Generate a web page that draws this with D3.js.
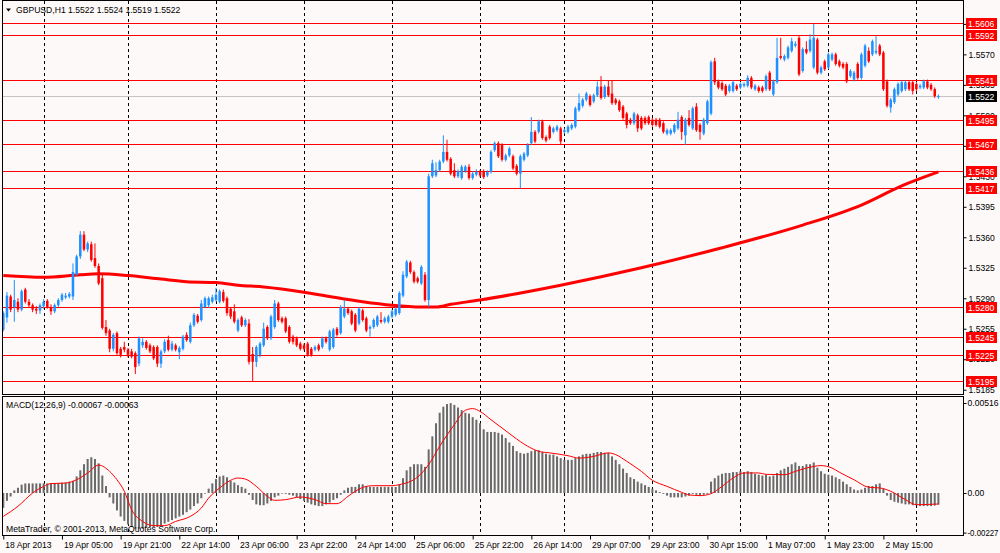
<!DOCTYPE html>
<html><head><meta charset="utf-8">
<script src="https://cdn.jsdelivr.net/npm/d3@7"></script>
<style>
body{margin:0;background:#fcf9f8;}
svg{display:block;font-family:"Liberation Sans",Arial,sans-serif;}
</style></head><body>
<svg id="c" width="1000" height="553"></svg>
<script>
// ---- DATA (prices in 1/10000 above 1.0: 5254 => 1.5254) ----
const headerText = "GBPUSD,H1  1.5522 1.5524 1.5519 1.5522";
const macdText = "MACD(12,26,9) -0.00067 -0.00063";
const copyText = "MetaTrader, \u00A9 2001-2013, MetaQuotes Software Corp.";

const opens = [5254,5268,5292,5280,5286,5277,5300,5286,5282,5278,
5276,5281,5287,5280,5275,5282,5288,5291,5292,5292,
5317,5338,5363,5346,5352,5336,5327,5313,5257,5253,
5232,5250,5232,5234,5231,5229,5227,5215,5236,5240,
5236,5234,5234,5215,5229,5242,5231,5236,5228,5232,
5248,5240,5259,5270,5265,5280,5282,5286,5288,5286,
5297,5290,5278,5275,5253,5268,5259,5261,5226,5217,
5225,5236,5257,5244,5257,5284,5267,5267,5257,5246,
5244,5238,5236,5238,5232,5231,5236,5234,5244,5231,
5234,5255,5250,5269,5278,5275,5271,5261,5276,5267,
5255,5257,5259,5265,5263,5263,5269,5271,5273,5293,
5315,5331,5320,5313,5307,5317,5288,5430,5431,5437,
5447,5458,5450,5437,5430,5428,5436,5441,5428,5432,
5435,5436,5431,5435,5460,5468,5466,5449,5454,5453,
5442,5433,5449,5454,5468,5481,5481,5493,5475,5487,
5481,5483,5485,5481,5481,5485,5487,5506,5511,5518,
5522,5516,5523,5533,5521,5533,5525,5518,5516,5510,
5502,5495,5491,5500,5497,5497,5498,5495,5495,5495,
5491,5479,5479,5481,5485,5498,5477,5497,5485,5510,
5489,5479,5491,5502,5562,5539,5537,5534,5528,5528,
5534,5532,5534,5534,5543,5530,5532,5532,5530,5549,
5524,5538,5568,5564,5566,5574,5580,5589,5551,5576,
5574,5555,5587,5549,5562,5555,5564,5570,5562,5559,
5559,5545,5541,5559,5543,5557,5574,5570,5572,5580,
5572,5539,5509,5515,5524,5528,5530,5538,5538,5536,
5532,5532,5539,5535,5530,5522];
const highs = [5275,5297,5294,5311,5290,5300,5302,5289,5284,5281,
5284,5289,5289,5283,5284,5290,5296,5296,5297,5330,
5340,5367,5367,5355,5355,5353,5330,5318,5265,5255,
5250,5252,5234,5240,5233,5232,5229,5246,5244,5242,
5238,5236,5236,5231,5243,5247,5241,5238,5235,5248,
5251,5262,5273,5272,5288,5292,5292,5294,5302,5300,
5300,5292,5280,5283,5267,5270,5267,5266,5234,5236,
5240,5262,5259,5271,5288,5286,5269,5269,5259,5248,
5246,5240,5238,5240,5234,5236,5238,5246,5246,5254,
5256,5257,5282,5288,5280,5277,5273,5280,5278,5269,
5259,5267,5271,5274,5269,5271,5277,5280,5298,5321,
5334,5333,5322,5315,5328,5320,5433,5449,5446,5449,
5477,5472,5452,5445,5438,5443,5443,5444,5436,5438,
5437,5438,5437,5460,5470,5470,5468,5456,5464,5455,
5444,5455,5458,5468,5498,5483,5495,5495,5477,5489,
5487,5489,5487,5485,5489,5491,5510,5525,5520,5527,
5524,5525,5539,5545,5535,5540,5540,5520,5518,5512,
5504,5497,5504,5502,5499,5499,5500,5497,5497,5497,
5493,5485,5485,5491,5504,5500,5497,5506,5510,5514,
5491,5497,5518,5563,5566,5541,5539,5536,5536,5540,
5536,5538,5538,5546,5545,5536,5534,5534,5547,5551,
5541,5589,5589,5570,5580,5589,5585,5591,5578,5585,
5593,5605,5589,5557,5564,5572,5572,5572,5564,5561,
5561,5553,5551,5561,5572,5582,5578,5587,5591,5582,
5574,5541,5520,5532,5538,5540,5540,5540,5540,5538,
5536,5541,5541,5537,5532,5524];
const lows = [5252,5262,5274,5263,5274,5275,5284,5279,5274,5272,
5272,5278,5278,5271,5273,5280,5286,5289,5290,5288,
5316,5335,5344,5343,5332,5325,5305,5254,5247,5228,
5229,5225,5222,5228,5222,5221,5203,5212,5233,5231,
5227,5219,5211,5210,5227,5229,5229,5229,5220,5230,
5240,5238,5257,5261,5263,5279,5279,5284,5286,5284,
5285,5270,5266,5261,5251,5257,5257,5214,5194,5211,
5222,5234,5242,5242,5255,5263,5261,5250,5238,5237,
5234,5230,5230,5223,5223,5229,5229,5232,5238,5229,
5232,5246,5248,5267,5271,5259,5251,5259,5263,5251,
5246,5255,5257,5261,5261,5261,5267,5269,5271,5291,
5313,5318,5307,5307,5305,5286,5280,5428,5429,5435,
5445,5447,5431,5428,5428,5426,5434,5426,5426,5430,
5429,5427,5429,5433,5458,5451,5447,5447,5452,5437,
5431,5416,5447,5452,5466,5468,5479,5472,5469,5472,
5479,5481,5466,5479,5479,5483,5485,5504,5509,5516,
5510,5514,5521,5518,5519,5521,5512,5512,5504,5495,
5485,5489,5489,5481,5483,5489,5489,5487,5487,5485,
5479,5477,5477,5479,5483,5472,5466,5487,5483,5481,
5472,5477,5489,5500,5535,5530,5528,5522,5526,5526,
5528,5530,5532,5532,5530,5528,5526,5526,5528,5528,
5522,5536,5564,5562,5564,5572,5578,5545,5549,5570,
5572,5553,5547,5547,5551,5553,5562,5557,5555,5553,
5537,5543,5539,5541,5541,5555,5560,5568,5570,5568,
5528,5509,5503,5513,5522,5526,5528,5528,5524,5528,
5530,5530,5530,5528,5520,5519];
const closes = [5273,5293,5277,5288,5277,5298,5286,5282,5277,5276,
5282,5286,5280,5275,5282,5288,5294,5293,5295,5320,
5338,5363,5346,5353,5334,5327,5307,5256,5250,5232,
5248,5227,5225,5231,5225,5223,5211,5244,5240,5233,
5229,5221,5215,5229,5240,5231,5238,5231,5233,5246,
5242,5259,5271,5263,5284,5290,5290,5291,5294,5298,
5287,5273,5269,5263,5265,5259,5265,5217,5217,5234,
5238,5255,5244,5269,5284,5265,5263,5252,5240,5240,
5236,5232,5232,5225,5225,5234,5231,5244,5240,5252,
5254,5248,5280,5278,5273,5261,5253,5278,5265,5253,
5257,5265,5269,5263,5267,5269,5275,5278,5296,5317,
5332,5320,5309,5309,5326,5288,5430,5445,5437,5447,
5458,5449,5433,5430,5436,5441,5441,5428,5433,5435,
5431,5429,5435,5458,5468,5453,5449,5454,5462,5439,
5433,5453,5456,5466,5481,5470,5493,5474,5471,5474,
5485,5487,5470,5483,5487,5489,5508,5514,5518,5525,
5512,5523,5533,5520,5533,5523,5514,5514,5506,5497,
5489,5491,5502,5485,5485,5491,5491,5489,5489,5487,
5481,5483,5483,5489,5495,5481,5495,5489,5508,5483,
5481,5495,5516,5561,5538,5532,5530,5524,5534,5538,
5530,5536,5536,5543,5532,5534,5528,5528,5545,5530,
5539,5566,5566,5568,5578,5585,5582,5547,5576,5572,
5587,5589,5549,5555,5553,5570,5570,5559,5557,5555,
5539,5551,5549,5543,5570,5580,5562,5585,5574,5570,
5530,5511,5518,5530,5536,5538,5538,5530,5528,5530,
5534,5539,5532,5530,5522,5522];

// moving average (thick red line), sampled at bar indices
const maBars = [0,11,21,26,34,43,50,58,64,71,82,89,98,106,114,118,122,130,152,174,196,218,234,245,255];
const maVals = [5316,5314,5317,5318,5316,5312,5309,5308,5305,5303,5297,5292,5286,5282,5280,5280,5283,5288,5305,5325,5348,5374,5397,5419,5435];

// MACD histogram, in units of 0.0001
const macdHist = [-8.5,-4.5,-2,1.5,3,4.8,5.5,5.5,5.5,5.5,
5.5,5.5,5.5,5.5,5.5,5.7,5.9,6,6.5,7,
9.5,13,16.5,19.5,20.5,19.5,17,10,4,-2.5,
-6,-10,-13.5,-16,-18,-19.5,-20.5,-20.5,-20.5,-20,
-19.5,-19.5,-19.5,-18.5,-17.5,-16.5,-15.5,-14.5,-13.5,-12.5,
-11,-9.5,-7.5,-6,-3,0,2.5,5.5,8,9.5,
10,9,7,6,4.5,3.5,2.5,-1,-4,-6.5,
-7,-7,-6,-4.5,-2.5,-1.5,-0.3,-0.5,-1,-1.5,
-2.5,-3.5,-4.5,-5.5,-6.5,-7,-7.5,-7.5,-6.5,-5.5,
-4,-3,-1,1.5,3,3.5,3.5,5,5,4,
3.5,3.5,3.5,3.5,3.5,3.5,3.5,3.5,5,8.5,
13,15,16.5,16.5,16.5,15,25,32.5,40,46,
49.5,51,51.5,50.5,49,47.5,46,45.5,43.5,42,
40,36.5,35,35,35,34.5,33.5,31.5,29,27,
24,23,22.5,23,24,24.5,24.5,23.5,22.5,22,
22,21,20,19,19,19,20,21,22,22.5,
22.5,23,23.5,23.5,23,23,21,19,16.5,14,
11.5,9,8,6.5,5.5,4.5,3.5,2.5,1.5,0.5,
-0.5,-1.5,-2.5,-2.5,-2.5,-2.5,-2,-1.5,-0.5,-1,
-1.5,-1,-0.5,6.5,8.5,10,11,11.5,11.5,12,
12,12.5,12,12.5,12,11,10.5,10,10.5,9.5,
10,11.5,13,14,15,16.5,17.5,15.5,15.5,16.5,
16.5,17.5,14.5,12.5,11,10.5,10,9,8,6.5,
5,3.5,2,1.5,2,3,4,4,5,5.5,
2.5,-1.5,-4,-5,-5.5,-6,-6.5,-6.5,-7,-7,
-7.5,-7.5,-7.5,-7.5,-7.2,-6.7];

// MACD signal line (0.0001 units), sampled at bar indices
const sigBars = [0,4,8,11,13,17,20,23,26,29,31,33,35,38,41,44,47,51,54,56,59,62,64,66,69,72,74,77,81,85,88,91,94,96,99,101,106,108,113,116,119,123,126,128,130,133,136,139,143,146,149,154,157,161,165,167,170,174,177,181,185,187,190,193,196,199,202,206,208,213,216,219,223,226,228,232,236,239,242,246,249,255];
const sigVals = [-13.4,-7.6,0,3.8,5.4,5.7,7.6,11.5,16,12.4,7.6,1,-9.6,-16.3,-18.7,-18.7,-16.3,-13.4,-8.6,-2.9,2.9,7.3,8.6,8,3.8,-1.9,-4.2,-3.8,-2.3,-3.8,-6.1,-6.1,-1.9,1,3.8,4.2,4.2,4.8,9.2,16.3,26.8,39.2,47.4,48.4,46.8,42,37.3,32.5,26.8,23.9,23,21.4,20,21,23,22,18.2,12.4,7.3,3.8,0.4,-1.1,-1.5,-0.4,3.8,8.6,11.5,11.5,10.7,10.5,12.4,14.3,15.7,14.3,11.9,7.6,3.3,2.9,1,-3.8,-6.7,-6.3];

// horizontal level lines and labels
const levels = [5606,5592,5541,5495,5467,5436,5417,5280,5245,5225,5195];
const bidLevel = 5522;
const priceTicks = [5605,5570,5535,5500,5465,5430,5395,5360,5325,5290,5255,5220,5185];
const macdTicks = [0.00516, 0, -0.00227];
const macdTickLabels = ["0.00516","0.00","-0.00227"];

// time axis
const gridBars = [11,34,58,82,106,130,153,177,201,225,249];
const timeBars = [0,16,32,48,64,80,96,112,128,144,160,176,192,208,224,240];
const timeLabels = ["18 Apr 2013","19 Apr 05:00","19 Apr 21:00","22 Apr 14:00","23 Apr 06:00","23 Apr 22:00","24 Apr 14:00","25 Apr 06:00","25 Apr 22:00","26 Apr 14:00","29 Apr 07:00","29 Apr 23:00","30 Apr 15:00","1 May 07:00","1 May 23:00","2 May 15:00"];

// ---- DRAW ----
const P = v => 1 + v / 10000;
const svg = d3.select("#c");
const FONT = 8.6;
const FAM = "'Liberation Sans',Arial,sans-serif";
svg.append("rect").attr("width",1000).attr("height",553).attr("fill","#fcf9f8");

const x = d3.scaleLinear().domain([0,255]).range([3.3,938.4]);
const y = d3.scaleLinear().domain([1.5195,1.5606]).range([381,23]);
const ym = d3.scaleLinear().domain([-0.00227,0.00516]).range([532.6,403]);

const defs = svg.append("defs");
defs.append("clipPath").attr("id","cm").append("rect").attr("x",3).attr("y",1).attr("width",960).attr("height",393);
defs.append("clipPath").attr("id","cd").append("rect").attr("x",3).attr("y",397).attr("width",960).attr("height",138);

const crisp = v => Math.round(v) + 0.5;

// vertical dashed grid
svg.append("g").selectAll("line").data(gridBars).join("line")
  .attr("x1",d=>crisp(x(d))).attr("x2",d=>crisp(x(d)))
  .attr("y1",1).attr("y2",535)
  .attr("stroke","#000").attr("stroke-width",1).attr("stroke-dasharray","3,3");

// main panel
const gM = svg.append("g").attr("clip-path","url(#cm)");
gM.append("line").attr("x1",2).attr("x2",963).attr("y1",crisp(y(P(bidLevel)))).attr("y2",crisp(y(P(bidLevel))))
  .attr("stroke","#c4c4c4").attr("stroke-width",1);
gM.selectAll("line.lvl").data(levels).join("line").attr("class","lvl")
  .attr("x1",2).attr("x2",963)
  .attr("y1",d=>crisp(y(P(d)))).attr("y2",d=>crisp(y(P(d))))
  .attr("stroke","#ff0000").attr("stroke-width",1);

const maLine = d3.line().x(d=>x(d[0])).y(d=>y(P(d[1]))).curve(d3.curveMonotoneX);
gM.append("path").datum(maBars.map((b,i)=>[b,maVals[i]]))
  .attr("d",maLine).attr("fill","none").attr("stroke","#ff0000").attr("stroke-width",3);

const bars = d3.range(opens.length).map(i=>({i,o:P(opens[i]),h:P(highs[i]),l:P(lows[i]),c:P(closes[i])}));
const col = d => d.c >= d.o ? "#1e90ff" : "#ff0000";
const gC = gM.append("g");
gC.selectAll("line").data(bars).join("line")
  .attr("x1",d=>x(d.i)).attr("x2",d=>x(d.i))
  .attr("y1",d=>y(d.h)).attr("y2",d=>y(d.l))
  .attr("stroke",col).attr("stroke-width",1);
gC.selectAll("rect").data(bars).join("rect")
  .attr("x",d=>x(d.i)-1.25).attr("width",2.5)
  .attr("y",d=>y(Math.max(d.o,d.c)))
  .attr("height",d=>Math.max(1,Math.abs(y(d.o)-y(d.c))))
  .attr("fill",col);

// MACD panel
const gD = svg.append("g").attr("clip-path","url(#cd)");
gD.selectAll("rect").data(macdHist).join("rect")
  .attr("x",(d,i)=>x(i)-1).attr("width",2)
  .attr("y",d=>Math.min(ym(0),ym(d/10000)))
  .attr("height",d=>Math.max(0.6,Math.abs(ym(d/10000)-ym(0))))
  .attr("fill","#6a6a6a");
const sigLine = d3.line().x(d=>x(d[0])).y(d=>ym(d[1]/10000)).curve(d3.curveMonotoneX);
gD.append("path").datum(sigBars.map((b,i)=>[b,sigVals[i]]))
  .attr("d",sigLine).attr("fill","none").attr("stroke","#ff0000").attr("stroke-width",1);

// panel borders
svg.append("rect").attr("x",2.5).attr("y",0.5).attr("width",961).attr("height",394)
  .attr("fill","none").attr("stroke","#000");
svg.append("rect").attr("x",2.5).attr("y",396.5).attr("width",961).attr("height",139)
  .attr("fill","none").attr("stroke","#000");

// price axis
const gA = svg.append("g").attr("transform","translate(963.5,0)")
  .call(d3.axisRight(y).tickValues(priceTicks.map(P)).tickFormat(d3.format(".4f")).tickSize(3).tickPadding(2));
gA.select(".domain").remove();
gA.attr("font-size",FONT).attr("font-family",FAM);
gA.selectAll("text").attr("fill","#000");
gA.selectAll("line").attr("stroke","#000");

// level labels
const gL = svg.append("g").attr("font-family",FAM);
const lvlLab = gL.selectAll("g").data(levels).join("g")
  .attr("transform",d=>`translate(0,${Math.round(y(P(d)))})`);
lvlLab.append("rect").attr("x",966).attr("y",-5).attr("width",31).attr("height",11).attr("fill","#ff0000");
lvlLab.append("text").attr("x",968).attr("y",3.5).attr("fill","#fff").attr("font-size",FONT)
  .text(d=>P(d).toFixed(4));
const bidG = gL.append("g").attr("transform",`translate(0,${Math.round(y(P(bidLevel)))})`);
bidG.append("rect").attr("x",966).attr("y",-5).attr("width",31).attr("height",11).attr("fill","#000");
bidG.append("text").attr("x",968).attr("y",3.5).attr("fill","#fff").attr("font-size",FONT).text(P(bidLevel).toFixed(4));

// macd axis
const gB = svg.append("g").attr("transform","translate(963.5,0)")
  .call(d3.axisRight(ym).tickValues(macdTicks).tickFormat((d,i)=>macdTickLabels[i]).tickSize(3).tickPadding(1));
gB.select(".domain").remove();
gB.attr("font-size",FONT).attr("font-family",FAM);
gB.selectAll("text").attr("fill","#000").attr("textLength",(d,i)=>i===2?31:null)
  .attr("lengthAdjust","spacingAndGlyphs");
gB.selectAll("line").attr("stroke","#000");

// time axis
const gT = svg.append("g").attr("transform","translate(0,535.5)")
  .call(d3.axisBottom(x).tickValues(timeBars).tickFormat((d,i)=>timeLabels[i]).tickSize(4).tickPadding(2));
gT.select(".domain").remove();
gT.attr("font-size",FONT).attr("font-family",FAM);
gT.selectAll("text").attr("text-anchor","start").attr("dx",1.5).attr("fill","#000");
gT.selectAll("line").attr("stroke","#000");

// texts
svg.append("path").attr("d","M6,8.5 L11,8.5 L8.5,11.5 Z").attr("fill","#000");
svg.append("text").attr("x",16).attr("y",13).attr("font-size",FONT).attr("fill","#000").text(headerText);
svg.append("text").attr("x",6).attr("y",408).attr("font-size",FONT).attr("fill","#000").text(macdText);
svg.append("text").attr("x",6).attr("y",532).attr("font-size",FONT).attr("fill","#000").text(copyText);
</script>
</body></html>
